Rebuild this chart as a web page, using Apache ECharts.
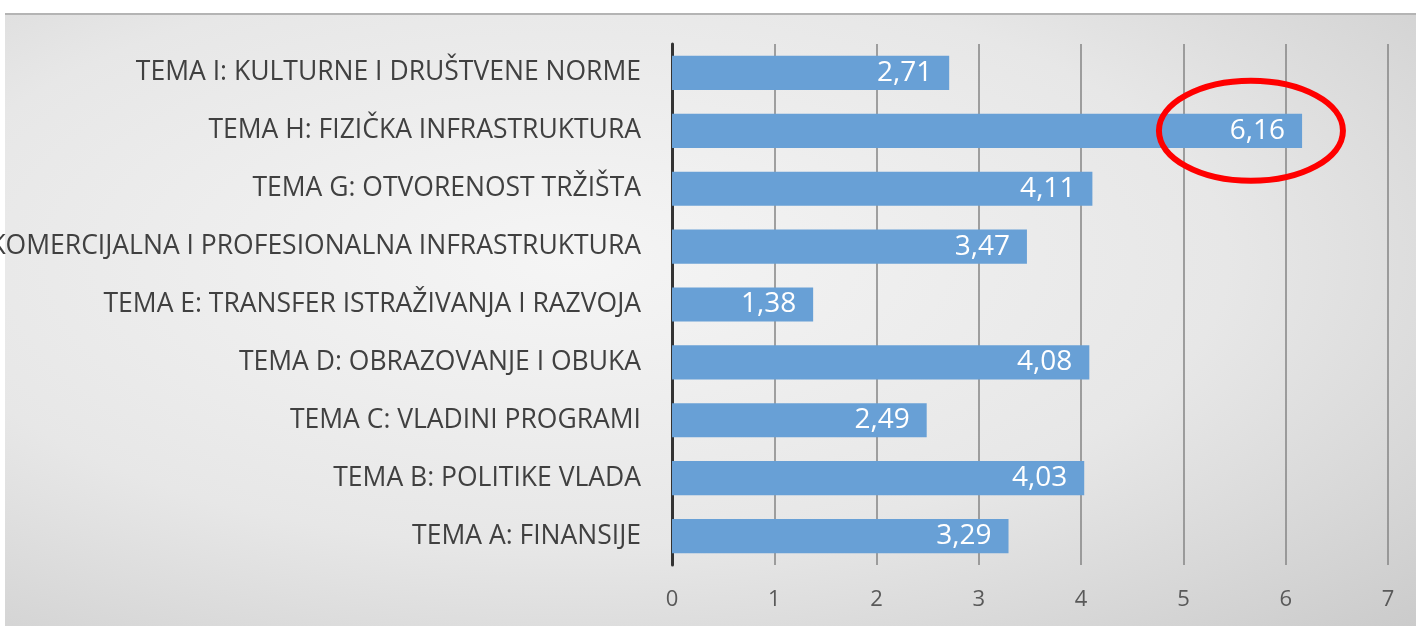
<!DOCTYPE html>
<html>
  <head>
    <meta charset="utf-8" />
    <title>Teme</title>
    <script src="https://cdn.jsdelivr.net/npm/echarts@6/dist/echarts.min.js"></script>
    <style>
      html, body { margin: 0; padding: 0; background: #fff; }
      #panel {
        position: absolute; left: 5px; top: 13px; width: 1411px; height: 613px;
        border-top: 2px solid #b4b4b4;
        background: radial-gradient(ellipse at 40% 40%, #f5f5f5 0%, #e7e7e7 55%, #cbcbcb 100%);
      }
      #main { position: absolute; left: 0; top: 0; width: 1416px; height: 626px; }
    </style>
  </head>
  <body>
    <div id="panel"></div>
    <div id="main"></div>

    <script type="text/javascript">
      var categories = [
        "TEMA A: FINANSIJE",
        "TEMA B: POLITIKE VLADA",
        "TEMA C: VLADINI PROGRAMI",
        "TEMA D: OBRAZOVANJE I OBUKA",
        "TEMA E: TRANSFER ISTRAŽIVANJA I RAZVOJA",
        "TEMA F: KOMERCIJALNA I PROFESIONALNA INFRASTRUKTURA",
        "TEMA G: OTVORENOST TRŽIŠTA",
        "TEMA H: FIZIČKA INFRASTRUKTURA",
        "TEMA I: KULTURNE I DRUŠTVENE NORME",
      ];
      var values = [3.29, 4.03, 2.49, 4.08, 1.38, 3.47, 4.11, 6.16, 2.71];
      var highlighted = "TEMA H: FIZIČKA INFRASTRUKTURA";

      var myChart = echarts.init(document.getElementById("main"));
      var font = "Open Sans";

      option = {
        backgroundColor: "transparent",
        animation: false,
        grid: { left: 672, right: 28, top: 44, bottom: 61, containLabel: false, outerBoundsMode: "none" },
        xAxis: {
          type: "value",
          min: 0,
          max: 7,
          interval: 1,
          axisLine: { show: false },
          axisTick: { show: false },
          splitLine: { lineStyle: { color: "#858585", width: 1.5 } },
          axisLabel: {
            margin: 24,
            fontSize: 22,
            fontFamily: font,
            color: "#595959",
          },
        },
        yAxis: {
          type: "category",
          data: categories,
          axisTick: { show: false },
          axisLine: { lineStyle: { color: "#333", width: 3 } },
          axisLabel: {
            margin: 31,
            fontSize: 26.5,
            fontFamily: font,
            color: "#404040",
          },
        },
        series: [
          {
            type: "bar",
            data: values,
            barWidth: "59%",
            itemStyle: { color: "#68a0d6" },
            label: {
              show: true,
              position: "insideRight",
              distance: 17,
              fontSize: 28,
              fontFamily: font,
              color: "#ffffff",
              formatter: function (p) {
                return p.value.toFixed(2).replace(".", ",");
              },
            },
          },
        ],
      };
      myChart.setOption(option);

      // red ellipse around the highlighted bar's end
      var idx = categories.indexOf(highlighted);
      var c = myChart.convertToPixel({ gridIndex: 0 }, [values[idx] - 0.5, categories[idx]]);
      myChart.setOption({
        graphic: [
          {
            type: "ellipse",
            shape: { cx: c[0], cy: c[1], rx: 92, ry: 50 },
            style: { fill: "none", stroke: "#ff0000", lineWidth: 6 },
            z: 100,
          },
        ],
      });
    </script>
  </body>
</html>
